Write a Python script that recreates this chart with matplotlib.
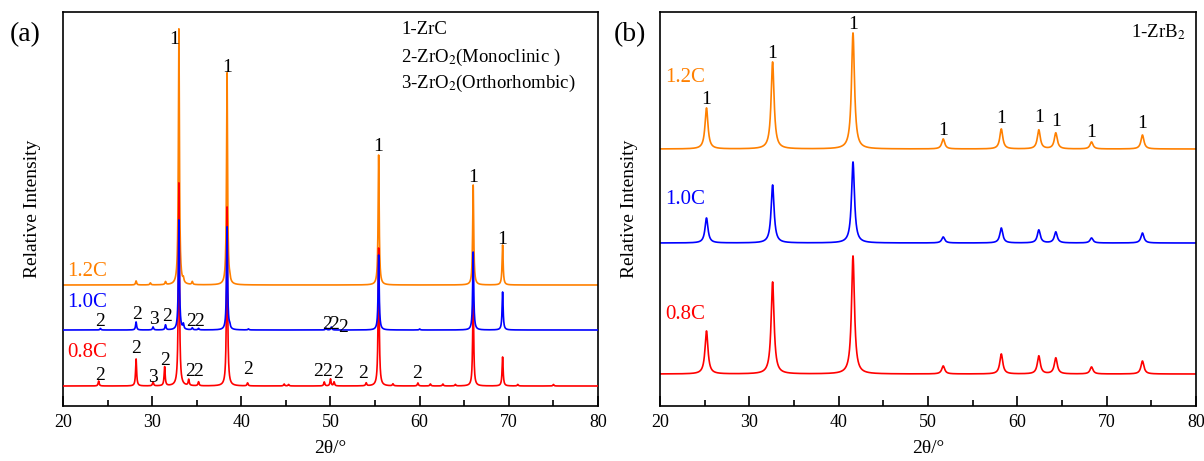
import numpy as np
import matplotlib.pyplot as plt
from matplotlib import rc

rc('font', family='Liberation Serif', size=14)
rc('mathtext', fontset='stix')

# ---------------- data (peak positions in 2theta, peak heights in px-like units)
samples = ['1.2C', '1.0C', '0.8C']
colors = ['#FF8000', '#0000FF', '#FF0000']

# panel (a): ZrC route
a_base = [121, 76, 20]
a_pos_12 = [28.2, 29.8, 31.5, 33.0, 33.5, 34.5, 38.4, 38.7, 55.4, 66.0, 69.3]
a_h_12 = [4, 2, 3, 256, 4, 3, 212, 3, 130, 100, 40]
a_pos_10 = [24.2, 28.2, 30.1, 31.5, 33.0, 33.5, 34.5, 35.2, 38.4, 38.7, 40.8, 49.5, 50.1, 55.4, 60.0, 66.0, 69.3]
a_h_10 = [1.5, 8, 3, 5, 110, 5, 2, 1.5, 103, 3, 1, 2, 3, 75, 1, 78, 38]
a_pos_08 = [24.0, 28.2, 30.1, 31.4, 33.0, 34.1, 35.2, 38.4, 40.7, 44.8, 45.3, 49.3, 50.0, 50.4,
            54.0, 55.4, 57.0, 59.8, 61.2, 62.6, 64.0, 66.0, 69.3, 71.0, 75.0]
a_h_08 = [5, 27, 4, 19, 203, 6, 4, 179, 3, 2, 1.5, 4, 7, 4,
          3, 138, 2, 3, 2, 2, 1.5, 90, 29, 1.5, 1.5]

# panel (b): ZrB2 route
b_base = [257, 163, 32]
b_pos = [25.2, 32.6, 41.6, 51.7, 58.2, 62.4, 64.3, 68.3, 74.0]
b_h_12 = [41, 87, 116, 10, 20, 19, 16, 7, 14]
b_h_10 = [25, 58, 81, 6, 15, 13, 11, 5, 10]
b_h_08 = [43, 92, 118, 8, 20, 18, 16, 7, 13]

# peak labels
a_lab1_x = [32.5, 38.4, 55.4, 66.0, 69.3]
a_lab1_y = [366, 338, 259, 228, 166]
a_lab10_x = [24.2, 28.3, 30.2, 31.7, 34.4, 35.3, 49.6, 50.4, 51.4]
a_lab10_t = ['2', '2', '3', '2', '2', '2', '2', '2', '2']
a_lab10_y = [84, 91, 86, 89, 84, 84, 81, 81, 78]
a_lab08_x = [24.2, 28.2, 30.1, 31.5, 34.3, 35.2, 40.8, 48.6, 49.6, 50.9, 53.7, 59.7]
a_lab08_t = ['2', '2', '3', '2', '2', '2', '2', '2', '2', '2', '2', '2']
a_lab08_y = [31, 58, 29, 46, 35, 35, 37, 35, 35, 33, 33, 33]
b_lab_y = [306, 352, 381, 275, 287, 288, 284, 273, 282]


def pattern(x, pos, h, w):
    y = np.zeros_like(x)
    for p, hh in zip(pos, h):
        y += hh / (1.0 + ((x - p) / w)**2)
    return y


x = np.linspace(20, 80, 6001)

fig = plt.figure(figsize=(12.04, 4.61), dpi=100)
ax1 = fig.add_axes([0.0523, 0.1193, 0.4444, 0.8547])
ax2 = fig.add_axes([0.5482, 0.1193, 0.4452, 0.8547])

# ---------------- panel (a)
a_pos = [a_pos_12, a_pos_10, a_pos_08]
a_h = [a_h_12, a_h_10, a_h_08]
zs = [2, 4, 3]
for i in range(3):
    ax1.plot(x, a_base[i] + pattern(x, a_pos[i], a_h[i], 0.07), color=colors[i], lw=1.2, zorder=zs[i])

for xx, yy in zip(a_lab1_x, a_lab1_y):
    ax1.text(xx, yy, '1', ha='center', va='center', fontsize=14)
for xx, tt, yy in zip(a_lab10_x, a_lab10_t, a_lab10_y):
    ax1.text(xx, yy, tt, ha='center', va='center', fontsize=14, zorder=6)
for xx, tt, yy in zip(a_lab08_x, a_lab08_t, a_lab08_y):
    ax1.text(xx, yy, tt, ha='center', va='center', fontsize=14, zorder=6)

a_lab_y = [134, 103, 54]
for i in range(3):
    ax1.text(20.5, a_lab_y[i], samples[i], color=colors[i], fontsize=15, va='center', ha='left')

ax1.text(57.9, 376, '1-ZrC', fontsize=13.5, va='center')
ax1.text(57.9, 349, '2-ZrO$_2$(Monoclinic )', fontsize=13.5, va='center')
ax1.text(57.9, 323, '3-ZrO$_2$(Orthorhombic)', fontsize=13.5, va='center')

# ---------------- panel (b)
b_h = [b_h_12, b_h_10, b_h_08]
for i in range(3):
    ax2.plot(x, b_base[i] + pattern(x, b_pos, b_h[i], 0.2), color=colors[i], lw=1.2)

for xx, yy in zip(b_pos, b_lab_y):
    ax2.text(xx, yy, '1', ha='center', va='center', fontsize=14)

b_lab_y2 = [328, 206, 91]
for i in range(3):
    ax2.text(20.6, b_lab_y2[i], samples[i], color=colors[i], fontsize=15, va='center', ha='left')

ax2.text(78.8, 374, '1-ZrB$_2$', fontsize=13.5, va='center', ha='right')

# ---------------- axes styling
for ax in [ax1, ax2]:
    ax.set_xlim(20, 80)
    ax.set_ylim(0, 394)
    ax.set_yticks([])
    ax.set_xticks(np.arange(20, 81, 10))
    ax.set_xticks(np.arange(25, 80, 10), minor=True)
    ax.tick_params(axis='x', which='major', direction='in', length=7, width=1.2, labelsize=13, pad=6)
    ax.tick_params(axis='x', which='minor', direction='in', length=4, width=1.2)
    ax.tick_params(axis='x', top=False)
    for s in ax.spines.values():
        s.set_linewidth(1.2)
    ax.set_xlabel('2θ/°', fontsize=14, labelpad=6)
    ax.set_ylabel('Relative Intensity', fontsize=14, labelpad=16)

fig.text(0.008, 0.925, '(a)', fontsize=20, va='center')
fig.text(0.510, 0.925, '(b)', fontsize=20, va='center')

plt.savefig('out.png', dpi=100)
